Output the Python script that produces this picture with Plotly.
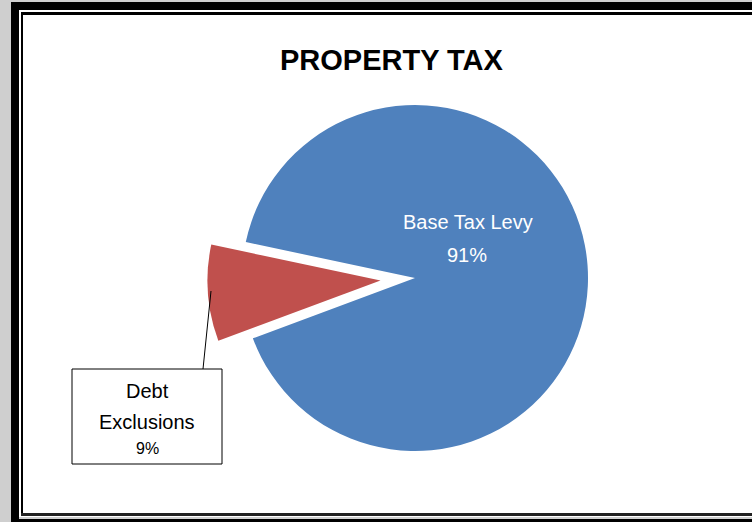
import plotly.graph_objects as go

# ---- data ----
labels = ["Base Tax Levy", "Debt Exclusions"]
values = [91, 9]
slice_colors = ["#4F81BD", "#C0504D"]
pulls = [0, 0.2]
title_text = "PROPERTY TAX"

W, H = 752, 522


def px(x):
    return x / W


def py(y):
    return 1 - y / H


total = sum(values)
pcts = [f"{round(100 * v / total)}%" for v in values]

# pie geometry (pixels): centre and radius; the box is enlarged by the pull
cx, cy, r = 415, 278, 173
half = r * (1 + max(pulls))

fig = go.Figure(
    go.Pie(
        labels=labels,
        values=values,
        sort=False,
        direction="clockwise",
        rotation=-78,
        pull=pulls,
        marker=dict(colors=slice_colors, line=dict(width=0)),
        textinfo="none",
        hoverinfo="label+percent",
        domain=dict(x=[px(cx - half), px(cx + half)],
                    y=[py(cy + half), py(cy - half)]),
    )
)

# ---- frame ----
shapes = []


def rect(x0, y0, x1, y1, color):
    shapes.append(dict(type="rect", xref="paper", yref="paper",
                       x0=px(x0), x1=px(x1), y0=py(y1), y1=py(y0),
                       fillcolor=color, line=dict(width=0), layer="above"))


rect(0, 0, 11, H, "#cfcfcf")
rect(0, 0, W, 2, "#cfcfcf")
rect(11, 2, 19, H, "#000000")
rect(11, 2, W, 10, "#000000")
rect(11, 519, W, H, "#000000")
rect(19, 517, W, 519, "#d0d0d0")
rect(21, 12, 23, 516, "#000000")
rect(21, 12, W, 15, "#000000")
rect(21, 513, W, 516, "#222222")

# callout box and leader line for the small slice
box = (72, 369, 222, 464)
shapes.append(dict(type="rect", xref="paper", yref="paper",
                   x0=px(box[0]), x1=px(box[2]), y0=py(box[3]), y1=py(box[1]),
                   fillcolor="white", line=dict(color="black", width=1)))
shapes.append(dict(type="line", xref="paper", yref="paper",
                   x0=px(211), y0=py(291), x1=px(203), y1=py(box[1]),
                   line=dict(color="black", width=1)))

font_family = "Liberation Sans, Arial, sans-serif"
annotations = []


def label(text, x, y, size, color, bold=False):
    annotations.append(dict(
        text=f"<b>{text}</b>" if bold else text,
        xref="paper", yref="paper", x=px(x), y=py(y),
        xanchor="center", yanchor="middle", showarrow=False,
        font=dict(family=font_family, size=size, color=color)))


label(title_text, 392, 60, 29, "black", bold=True)
label(labels[0], 468, 222.5, 20, "white")
label(pcts[0], 467, 254.5, 20, "white")
debt_words = labels[1].split(" ")
label(debt_words[0], 147, 391, 20, "black")
label(debt_words[1], 147, 421.5, 20, "black")
label(pcts[1], 147, 448.5, 16, "black")

fig.update_layout(
    width=W, height=H,
    margin=dict(l=0, r=0, t=0, b=0),
    paper_bgcolor="white",
    plot_bgcolor="white",
    showlegend=False,
    shapes=shapes,
    annotations=annotations,
)

fig.write_html("out.html")
